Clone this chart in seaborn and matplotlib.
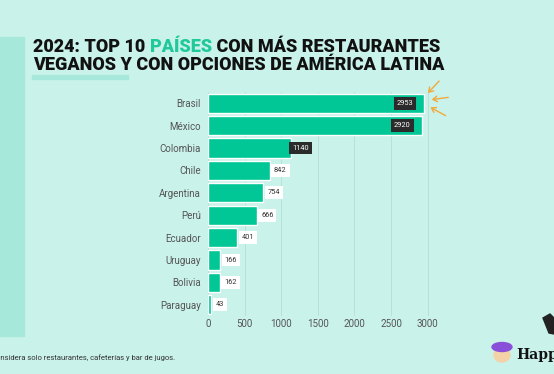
import matplotlib
matplotlib.use("Agg")
import matplotlib.pyplot as plt
import seaborn as sns
import pandas as pd

# data
countries = ['Brasil', 'México', 'Colombia', 'Chile', 'Argentina',
             'Perú', 'Ecuador', 'Uruguay', 'Bolivia', 'Paraguay']
restaurants = [2953, 2920, 1140, 842, 754, 666, 401, 166, 162, 43]
xticks = [0, 500, 1000, 1500, 2000, 2500, 3000]

bg = '#c9f2ea'
green = '#00c795'

sns.set_theme(style="white")
plt.rcParams['font.family'] = ['Roboto', 'DejaVu Sans']

fig = plt.figure(figsize=(5.54, 3.74), dpi=100)
fig.patch.set_facecolor(bg)

W, H = 554, 374
def fx(px):
    return px / W
def fy(py):
    return 1 - py / H

# decorative left strip and title underline
fig.patches.append(plt.Rectangle((0, fy(336)), fx(24), fy(37) - fy(336),
                                 transform=fig.transFigure, color='#a6e8da', zorder=0))
fig.patches.append(plt.Rectangle((fx(32), fy(79)), fx(96), fy(75) - fy(79),
                                 transform=fig.transFigure, color='#a6e8da', zorder=0))

# title, "PAÍSES" highlighted
t1 = fig.text(fx(33), fy(52), '2024: TOP 10 ', fontsize=13, fontweight='black', color='#111111')
fig.canvas.draw()
bb = t1.get_window_extent()
t2 = fig.text(bb.x1 / W, fy(52), 'PAÍSES', fontsize=13, fontweight='black', color='#1fc99a')
bb = t2.get_window_extent()
fig.text(bb.x1 / W, fy(52), ' CON MÁS RESTAURANTES', fontsize=13, fontweight='black', color='#111111')
fig.text(fx(33), fy(70), 'VEGANOS Y CON OPCIONES DE AMÉRICA LATINA', fontsize=13,
         fontweight='black', color='#111111')

ax = fig.add_axes([fx(208), fy(316), fx(227), fy(92) - fy(316)])
ax.set_facecolor(bg)

df = pd.DataFrame({'pais': countries, 'n': restaurants})
sns.barplot(data=df, y='pais', x='n', orient='h', color=green, width=0.86,
            saturation=1, ax=ax, zorder=2)

ax.set_xlim(0, 3100)
ax.set_xticks(xticks)
ax.set_xticklabels([str(v) for v in xticks])
ax.set_xlabel('')
ax.set_ylabel('')
ax.grid(axis='x', color='#b6ddd4', linewidth=0.6, zorder=0)
ax.set_axisbelow(True)
for s in ax.spines.values():
    s.set_visible(False)
ax.tick_params(axis='y', length=0, labelsize=7, labelcolor='#555555', pad=5)
ax.tick_params(axis='x', length=0, labelsize=7, labelcolor='#555555', pad=2)

# value labels
for i, v in enumerate(restaurants):
    if v > 2000:
        ax.text(v - 150, i, str(v), ha='right', va='center', fontsize=5.3, color='white',
                bbox=dict(boxstyle='square,pad=0.4', fc='#2b2b2b', ec='none'), zorder=4)
    elif v > 1000:
        ax.text(v + 10, i, str(v), ha='left', va='center', fontsize=5.3, color='white',
                bbox=dict(boxstyle='square,pad=0.4', fc='#2b2b2b', ec='none'), zorder=4)
    else:
        ax.text(v + 60, i, str(v), ha='left', va='center', fontsize=5.3, color='#333333',
                bbox=dict(boxstyle='square,pad=0.4', fc='white', ec='none'), zorder=4)

# orange arrows pointing at the top bar
orange = '#f2a93b'
for (x0, y0), (x1, y1) in [((441, 79), (426, 95)), ((451, 97), (429, 100)), ((448, 117), (428, 106))]:
    fig.add_artist(matplotlib.patches.FancyArrowPatch(
        (fx(x0), fy(y0)), (fx(x1), fy(y1)), transform=fig.transFigure,
        arrowstyle='->,head_length=3,head_width=2', color=orange, lw=1))

# footnote (cut on the left like the source)
fig.text(-0.016, fy(360), 'Considera solo restaurantes, cafeterías y bar de jugos.',
         fontsize=5.5, color='#333333')

# logo
fig.add_artist(matplotlib.patches.Ellipse((fx(502), fy(355)), fx(16), fy(0) - fy(14),
                                          transform=fig.transFigure, color='#f3d2a8'))
fig.add_artist(matplotlib.patches.Ellipse((fx(502), fy(347)), fx(20), fy(0) - fy(9),
                                          transform=fig.transFigure, color='#8a4fd8'))
fig.text(fx(516), fy(359), 'Happy', fontsize=10, fontweight='black', color='#111111',
         family=['DejaVu Serif'])
fig.add_artist(matplotlib.patches.Polygon([(fx(543), fy(318)), (fx(550), fy(314)),
                                           (fx(554), fy(318)), (fx(554), fy(334)), (fx(549), fy(333))],
                                          closed=True, transform=fig.transFigure, color='#222222'))

fig.savefig('out.png', dpi=100, facecolor=bg)
